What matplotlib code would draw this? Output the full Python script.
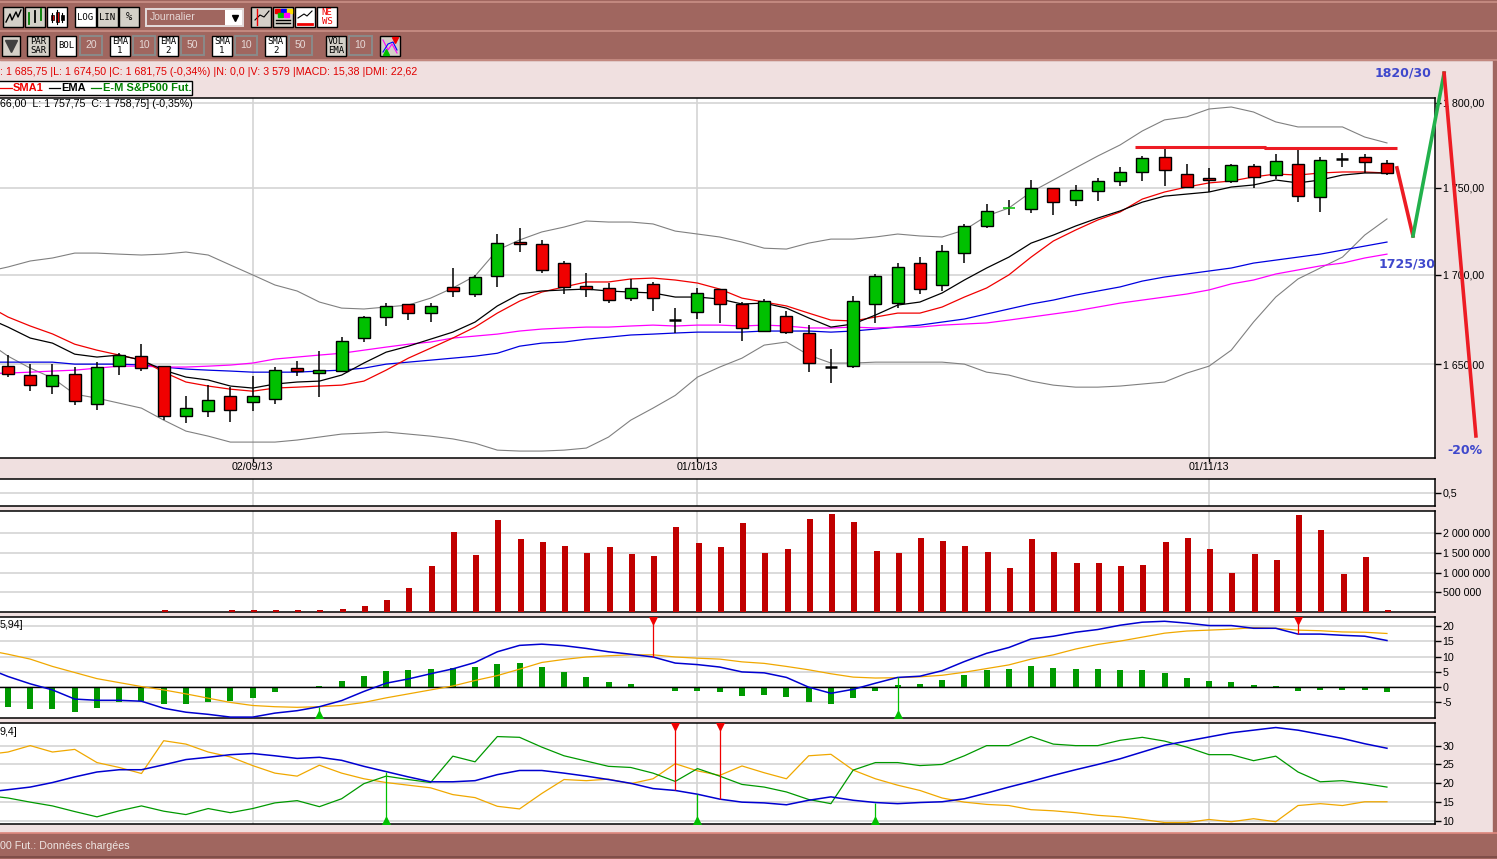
import numpy as np
import matplotlib
matplotlib.use('Agg')
import matplotlib.pyplot as plt
from matplotlib.patches import Rectangle

W, H = 1497, 859
plt.rcParams['font.family'] = ['Liberation Sans', 'DejaVu Sans']

# daily candles
opens = [1648.9, 1644, 1638, 1644.5, 1628.2, 1648.9, 1654.4, 1648.9, 1621.7, 1624.4, 1632.6, 1629.2, 1630.8, 1647.8, 1645.1, 1646.2,
         1664.4, 1676.1, 1683.4, 1678.3, 1693, 1689, 1699.2, 1718.5, 1717.4, 1706.5, 1693.5, 1692.4, 1686.7, 1694.7, 1674.4, 1678.9,
         1691.8, 1683.4, 1668.3, 1676.7, 1667.2, 1648.4, 1648.9, 1683.4, 1683.9, 1706.5, 1694.1, 1712.2, 1727.7, 1738.1, 1737.5, 1749.7,
         1742.7, 1748, 1753.8, 1759.1, 1767.9, 1757.9, 1755.6, 1753.8, 1762.6, 1757.3, 1763.8, 1744.4, 1766.7, 1767.9, 1764.4]
closes = [1644.5, 1638.5, 1644, 1629.8, 1648.4, 1655, 1647.8, 1621.7, 1626, 1630.3, 1624.9, 1632.6, 1646.7, 1646.2, 1646.7, 1662.7,
          1676.1, 1682.3, 1678.3, 1682.3, 1690.7, 1698.6, 1717.9, 1717.4, 1702.6, 1693, 1691.8, 1685.6, 1692.4, 1686.7, 1674.4, 1689.6,
          1683.4, 1670, 1685, 1667.7, 1650.6, 1648.4, 1685, 1699.2, 1704.3, 1691.8, 1713.3, 1727.7, 1736.4, 1738.1, 1749.7, 1741.5,
          1748.6, 1753.8, 1759.1, 1767.3, 1760.3, 1750.3, 1754.4, 1763.2, 1756.2, 1765.6, 1745, 1766.1, 1766.7, 1765, 1758.5]
highs = [1655, 1650, 1650, 1648.4, 1651.1, 1656, 1661, 1648.9, 1632.6, 1638.5, 1637.4, 1643.5, 1648.4, 1651.7, 1657.2, 1665,
         1676.7, 1683.9, 1683.4, 1683.9, 1703.7, 1699.8, 1723.1, 1726.6, 1719.7, 1707.7, 1700.9, 1695.2, 1697.5, 1695.8, 1681.1, 1692.4,
         1691.8, 1684.5, 1686.2, 1679.5, 1671.6, 1658.2, 1687.9, 1700.3, 1706.5, 1709.9, 1716.8, 1728.9, 1740.4, 1742.7, 1754.4, 1749.7,
         1751.5, 1755.6, 1762, 1768.5, 1773.2, 1763.8, 1761.5, 1763.8, 1763.8, 1769.6, 1772.6, 1767.9, 1770.2, 1769.6, 1766.1]
lows = [1642.9, 1635.2, 1633.9, 1627.6, 1624.9, 1644, 1646.2, 1619.5, 1618, 1621.2, 1618.5, 1624.4, 1628.2, 1643.5, 1632, 1646.2,
        1662.2, 1671.1, 1674.4, 1673.3, 1687.3, 1687.3, 1693, 1712.8, 1700.9, 1689, 1687.3, 1683.9, 1685, 1679.5, 1667, 1675,
        1672.8, 1662.7, 1667.7, 1666.6, 1645.6, 1639.6, 1647.8, 1672.8, 1681.1, 1689, 1690.7, 1706.5, 1726.6, 1734.1, 1735.2, 1734.1,
        1739.2, 1742.1, 1750.9, 1753.8, 1750.9, 1749.7, 1747.4, 1752.7, 1749.7, 1755, 1741.5, 1735.8, 1762, 1758.5, 1757.3]

# overlays on the price panel, the first value is the day before the first candle
boll_up = [1701.5, 1704.3, 1707.7, 1709.4, 1712.2, 1712.2, 1711.6, 1711.1, 1711.6, 1712.8, 1711.1, 1705.4, 1699.8, 1694.1, 1690.7, 1684.5, 1681.1,
           1680.6, 1681.7, 1682.8, 1686.7, 1692.4, 1699.2, 1713.9, 1719.7, 1724.3, 1727.1, 1730.6, 1730, 1730, 1728.9, 1724.8, 1723.1,
           1721.4, 1718.5, 1715, 1714.5, 1717.9, 1720.2, 1720.2, 1721.4, 1723.1, 1722, 1721.4, 1725.4, 1733.5, 1738.1, 1747.4, 1754.4,
           1761.5, 1768.5, 1775, 1783.3, 1789.9, 1791.7, 1796.4, 1797.6, 1794.6, 1788.7, 1785.7, 1785.7, 1785.7, 1779.7, 1776.2]
boll_low = [1663, 1654.4, 1647.8, 1642.4, 1633.6, 1631.4, 1628.7, 1626, 1619.5, 1613.6, 1610.9, 1607.7, 1607.7, 1607.7, 1608.8, 1610.4, 1612,
            1612.5, 1613.1, 1612, 1610.9, 1609.4, 1607.1, 1603.4, 1602.9, 1602.9, 1603.4, 1604.5, 1610.4, 1619.5, 1626, 1632.9, 1642.9,
            1648.4, 1653.3, 1660.5, 1662.2, 1655, 1650.6, 1650.6, 1651.1, 1651.1, 1651.1, 1651.1, 1650, 1645.6, 1644, 1640.7, 1638.5,
            1637.4, 1637.4, 1638, 1639.1, 1640.2, 1645.1, 1648.9, 1657.7, 1673.3, 1687.3, 1697.5, 1703.7, 1709.9, 1722.5, 1731.8]
sma1 = [1683, 1676.1, 1671.1, 1666.7, 1661, 1657.7, 1655, 1652.2, 1645.6, 1640.2, 1638, 1636.3, 1635.2, 1636.9, 1637.4, 1638, 1638.5,
        1640.7, 1646.7, 1653.3, 1658.8, 1664.4, 1670.5, 1678.3, 1685, 1690.1, 1693, 1695.8, 1695.8, 1697.5, 1698, 1696.9, 1695.2,
        1691.8, 1686.7, 1684.5, 1682.3, 1678.3, 1674.4, 1673.9, 1676.1, 1678.3, 1678.3, 1681.7, 1687.3, 1692.4, 1699.8, 1709.9, 1719.1,
        1725.4, 1731.2, 1735.8, 1743.3, 1747.4, 1750.3, 1752.7, 1753.8, 1756.2, 1757.9, 1757.3, 1758.5, 1759.1, 1759.1, 1758.5]
ema1 = [1676, 1670.5, 1664.4, 1661.6, 1655.5, 1653.9, 1655, 1652.2, 1646.7, 1642.9, 1641.3, 1638, 1636.9, 1639.1, 1640.2, 1640.7, 1644,
        1650.6, 1656.6, 1659.9, 1663.8, 1667.7, 1673.3, 1682.3, 1689, 1690.7, 1691.3, 1691.8, 1690.7, 1690.1, 1689.6, 1687.3, 1687.3,
        1686.2, 1683.4, 1683.9, 1681.1, 1675.6, 1670.5, 1672.2, 1677.2, 1682.8, 1684.5, 1689.6, 1696.9, 1703.7, 1709.9, 1717.9, 1722.5,
        1727.7, 1732.3, 1736.4, 1741.5, 1745, 1746.2, 1747.4, 1750.3, 1751.5, 1754.4, 1752.7, 1754.4, 1757.3, 1758.5, 1758.5]
ema2 = [1651.1, 1651.1, 1651.1, 1651.1, 1650, 1650, 1650, 1649.5, 1648.4, 1647.3, 1646.7, 1646.2, 1645.6, 1645.6, 1645.6, 1646.2, 1646.7,
        1647.8, 1650, 1651.1, 1652.2, 1653.3, 1654.4, 1656, 1659.9, 1661.6, 1662.2, 1663.8, 1664.9, 1666.1, 1666.6, 1667.2, 1667.7,
        1667.7, 1667.7, 1668.3, 1668.3, 1668.3, 1667.7, 1668.3, 1669.4, 1670.5, 1671.6, 1673.3, 1675, 1677.8, 1680.6, 1683.4, 1685.6,
        1688.4, 1690.7, 1693, 1696.3, 1698.6, 1700.3, 1702, 1703.7, 1706.5, 1708.2, 1709.9, 1711.6, 1713.9, 1716.2, 1718.5]
sma2 = [1644.8, 1645.1, 1645.6, 1646.2, 1646.7, 1647.8, 1648.9, 1648.9, 1648.4, 1648.4, 1648.9, 1649.5, 1650.6, 1652.8, 1653.9, 1655, 1656,
        1657.7, 1659.4, 1661, 1662.2, 1664.4, 1665.5, 1666.6, 1668.3, 1669.4, 1670, 1670.5, 1670.5, 1671.1, 1671.6, 1671.1, 1671.6,
        1671.6, 1671.1, 1671.6, 1671.1, 1670, 1670, 1670.5, 1670, 1670.5, 1670.5, 1671.6, 1672.2, 1672.8, 1674.4, 1676.1, 1677.8,
        1679.5, 1681.7, 1683.9, 1685.6, 1687.3, 1689, 1691.3, 1694.7, 1696.9, 1700.3, 1702.6, 1704.9, 1706.5, 1709.4, 1711.6]

volume = [0, 0, 0, 0, 0, 0, 0, 40000, 0, 0, 40000, 40000, 40000, 40000, 60000, 80000,
          153000, 305000, 610000, 1170000, 2030000, 1450000, 2340000, 1860000, 1780000, 1680000, 1500000, 1650000, 1470000, 1420000, 2160000, 1750000,
          1650000, 2260000, 1500000, 1600000, 2360000, 2490000, 2290000, 1550000, 1500000, 1880000, 1810000, 1680000, 1530000, 1120000, 1860000, 1530000,
          1250000, 1250000, 1170000, 1190000, 1780000, 1880000, 1600000, 990000, 1470000, 1320000, 2470000, 2080000, 970000, 1400000, 60000]

macd_hist = [-6.4, -7.3, -7.3, -8, -6.7, -5, -4.6, -5.4, -5.4, -4.7, -4.4, -3.4, -1.7, -0.4, 0.4, 2.1,
             3.7, 5.4, 5.7, 6, 6.3, 6.7, 7.7, 8, 6.7, 5, 3.4, 1.7, 1.1, 0, -1.4, -1.4,
             -1.7, -2.8, -2.5, -3.1, -4.8, -5.5, -3.5, -1.2, 0.8, 1.1, 2.4, 4, 5.7, 6, 7, 6.3,
             6, 6, 5.7, 5.7, 4.7, 3.1, 2.1, 1.7, 0.8, 0.4, -1.2, -0.9, -0.9, -0.9, -1.5]
macd_line = [6.4, 3.5, 1.1, -0.9, -3.9, -4.3, -4.3, -4.6, -6.9, -8.2, -8.9, -9.8, -9.8, -8.5, -7.7, -6.4, -4.4,
             -1.4, 1.3, 2.7, 4.4, 6, 8.1, 11.6, 13.7, 14.1, 13.6, 12.7, 11.6, 10.8, 9.9, 7.9, 7.4,
             6.6, 5, 4.7, 3.2, 0, -2, -0.7, 1.3, 3.2, 3.6, 5.4, 8.4, 11.1, 13, 15.8, 16.7,
             18, 18.9, 20.3, 21.3, 21.6, 21, 20.2, 20.2, 19.3, 19.3, 17.4, 17.4, 17, 16.7, 15.3]
macd_signal = [12.2, 10.8, 9.2, 6.8, 4.8, 2.8, 1.5, 0.2, -0.9, -2.2, -3.6, -5, -6, -6.4, -6.6, -6.4, -6,
               -5, -3.5, -2.2, -0.9, 0.4, 2.2, 3.8, 5.9, 8.1, 9.1, 9.9, 10.3, 10.6, 10.6, 9.9, 9.5,
               9.2, 8.3, 7.8, 6.8, 5.7, 4.4, 3.3, 3, 3.1, 3.4, 3.9, 4.9, 6.1, 7.3, 9.2, 10.6,
               12.5, 14, 15.1, 16.4, 17.7, 18.4, 18.7, 19, 19.5, 19.3, 18.7, 18.5, 18.1, 18, 17.6]

adx = [17.6, 18.3, 19, 20.2, 21.7, 23, 23.6, 23.6, 24.9, 26.3, 26.9, 27.6, 27.9, 27.3, 26.6, 26.9, 26.1,
       24.5, 23.1, 21.7, 20.4, 20.4, 20.7, 22.3, 23.4, 23.4, 22.7, 21.9, 21, 20, 18.6, 18.1, 17.1,
       15.8, 15, 14.8, 14.3, 15.5, 16.4, 15.5, 14.9, 14.6, 14.9, 15.1, 15.9, 17.4, 19, 20.5, 22.1,
       23.6, 25, 26.5, 28.3, 30.1, 31.2, 32.3, 33.4, 34.1, 34.8, 34.1, 33, 31.9, 30.5, 29.3]
di_minus = [27.6, 28.3, 30, 28.3, 29, 25.5, 24.2, 22.6, 31.3, 30.4, 28.3, 27, 24.7, 22.7, 21.9, 24.8, 22.7,
            21.2, 20.2, 19.5, 18.8, 17, 16.2, 13.9, 13.2, 17.3, 21, 20.7, 21.1, 19.9, 21.2, 25.2, 23.3,
            22.1, 24.6, 22.8, 21.2, 27.3, 27.7, 23.5, 21.2, 19.5, 18.1, 16.1, 15, 14.4, 14.1, 13, 12.7,
            12.2, 11.5, 11.1, 10.4, 9.6, 9.6, 10.4, 9.8, 10.6, 9.8, 14.1, 14.6, 14.1, 15.1, 15.1]
di_plus = [16.8, 16.1, 15, 14, 12.5, 11.1, 12.7, 14, 12.6, 11.7, 13.3, 12.2, 13.3, 14.8, 15.4, 13.8, 15.9,
           19.9, 21.9, 21, 20.2, 27.2, 25.7, 32.4, 32.2, 29.6, 27.3, 25.9, 24.5, 24.2, 22.7, 20.5, 23.9,
           21.9, 19.7, 19, 17.7, 15.7, 14.6, 23.5, 25.5, 25.5, 24.7, 25, 27.3, 30, 30, 32.4, 30.4,
           30, 30, 31.4, 32.2, 31.2, 29.6, 27.6, 27.6, 26, 27.2, 23, 20.4, 20.7, 19.9, 19]

# signal arrows (candle index)
macd_up = [14, 40]
macd_down = [29, 58]
dmi_up = [17, 31, 39]
dmi_down = [30, 32]

date_idx = [11, 31, 54]
date_labels = ['02/09/13', '01/10/13', '01/11/13']
price_ticks = [1650, 1700, 1750, 1800]
price_labels = ['1 650,00', '1 700,00', '1 750,00', '1 800,00']
vol_ticks = [500000, 1000000, 1500000, 2000000]
vol_labels = ['500 000', '1 000 000', '1 500 000', '2 000 000']
macd_ticks = [-5, 0, 5, 10, 15, 20]
dmi_ticks = [10, 15, 20, 25, 30]

# hand drawn forecast on top of the chart
res_x = [50.67, 56.5, 56.5, 62.45]
res_y = [1774, 1774, 1773.4, 1773.4]
fall_x = [62.45, 63.17]
fall_y = [1761.5, 1722]
rise_x = [63.17, 64.57]
rise_y = [1722, 1818]
drop_x = [64.57, 66.0]
drop_y = [1818, 1611]

BROWN = '#a0665f'
PINK = '#f0e0e0'
GRID = '#d4d4d4'
GREEN = '#00c000'
RED = '#f00000'
BTN = '#d4d0c8'
INK = '#3f48cc'
TXT = 7.7

x = np.arange(len(opens))
xl = np.arange(-1, len(opens))  # overlay lines run past the left edge
xlim = (-0.36, 64.16)
fig = plt.figure(figsize=(W / 100, H / 100), dpi=100, facecolor=PINK)


def panel(top, bottom):
    ax = fig.add_axes([0, 1 - bottom / H, 1435 / W, (bottom - top) / H], zorder=2)
    ax.set_xlim(xlim)
    ax.spines['left'].set_visible(False)
    for s in ['top', 'bottom', 'right']:
        ax.spines[s].set_linewidth(1.1)
    ax.yaxis.tick_right()
    ax.set_axisbelow(True)
    ax.grid(True, color=GRID, lw=1.2)
    ax.set_xticks(date_idx)
    ax.tick_params(axis='x', length=0, labelbottom=False)
    ax.tick_params(axis='y', length=4, width=1, pad=1.5, labelsize=TXT)
    return ax


# window chrome in pixel coordinates
ui = fig.add_axes([0, 0, 1, 1], zorder=0)
ui.set_xlim(0, W)
ui.set_ylim(H, 0)
ui.axis('off')
ui.add_patch(Rectangle((0, 0), W, 60, color=BROWN))
ui.add_patch(Rectangle((0, 833), W, 26, color=BROWN))
ui.add_patch(Rectangle((1493, 0), 4, H, color=BROWN))
for yy, c in [(2, '#c98f86'), (31, '#c98f86'), (60, '#c98f86'), (833, '#e08a80'), (857, '#7a4a45')]:
    ui.plot([0, W], [yy, yy], color=c, lw=1.2)


def button(x0, x1, y0, y1, label=None, fc=BTN, color='black', size=6.5):
    ui.add_patch(Rectangle((x0, y0), x1 - x0, y1 - y0, fc=fc, ec='black', lw=1))
    if label:
        ui.text((x0 + x1) / 2, (y0 + y1) / 2, label, ha='center', va='center', fontsize=size,
                color=color, linespacing=0.95, family=['DejaVu Sans Mono'])


def field(x0, x1, label):
    ui.add_patch(Rectangle((x0, 36), x1 - x0, 19, fc=BROWN, ec='#8a8a8a', lw=1.4))
    ui.text((x0 + x1) / 2, 45.5, label, ha='center', va='center', fontsize=7.5, color='#e6d8d6')


# first toolbar row
button(3, 23, 7, 27)
ui.plot([6, 10, 12, 16, 18, 21], [22, 14, 20, 12, 17, 10], color='black', lw=1)
button(25, 45, 7, 27)
for bx, b0, b1, col in [(29, 13, 24, 'green'), (35, 11, 22, 'black'), (41, 9, 20, 'green')]:
    ui.plot([bx, bx], [b0, b1], color=col, lw=1.3)
button(47, 67, 7, 27, fc='white')
for bx, b0, b1, col in [(52, 13, 22, RED), (57, 10, 24, RED), (62, 13, 22, 'black')]:
    ui.plot([bx, bx], [b0, b1], color='black', lw=0.8)
    ui.add_patch(Rectangle((bx - 1.5, b0 + 2), 3, b1 - b0 - 4, fc=col, ec='black', lw=0.5))
button(75, 96, 7, 27, 'LOG', fc='white')
button(97, 118, 7, 27, 'LIN')
button(119, 139, 7, 27, '%', size=7.5)
ui.add_patch(Rectangle((146, 9), 97, 17, fc=BROWN, ec='#e4dcdc', lw=1.4))
ui.add_patch(Rectangle((225, 10), 17, 15, fc='white', ec='none'))
ui.text(150, 17.5, 'Journalier', va='center', fontsize=7.5, color='#e6d8d6')
ui.plot([235], [18], marker='v', color='black', ms=4)
button(251, 271, 7, 27)
ui.plot([255, 260, 264, 269], [20, 15, 17, 11], color='black', lw=0.8)
ui.plot([257, 257], [9, 25], color=RED, lw=1)
button(273, 293, 7, 27)
for cx, cy, col in [(278, 11, RED), (284, 11, 'blue'), (290, 11, '#ffe000'), (281, 15, '#00c000'), (287, 15, 'magenta')]:
    ui.add_patch(Rectangle((cx - 3, cy - 2), 5, 4, color=col))
ui.plot([276, 290], [20, 20], color='black', lw=1)
ui.plot([276, 290], [23, 23], color='black', lw=1)
button(295, 315, 7, 27, fc='white')
ui.plot([298, 304, 307, 312], [18, 14, 16, 11], color='black', lw=0.8)
ui.plot([298, 312], [24, 24], color=RED, lw=2)
button(317, 337, 7, 27, 'NE\nWS', fc='white', color=RED)

# second toolbar row
button(2, 20, 36, 56)
ui.plot([11], [46], marker='v', color='#404040', ms=9)
button(27, 49, 36, 56, 'PAR\nSAR')
button(56, 76, 36, 56, 'BOL', fc='white')
field(80, 102, '20')
button(110, 130, 36, 56, 'EMA\n1', fc='white')
field(133, 155, '10')
button(158, 178, 36, 56, 'EMA\n2', fc='white')
field(181, 204, '50')
button(212, 232, 36, 56, 'SMA\n1', fc='white')
field(235, 257, '10')
button(265, 286, 36, 56, 'SMA\n2', fc='white')
field(289, 312, '50')
button(326, 346, 36, 56, 'VOL\nEMA')
field(349, 372, '10')
button(380, 400, 36, 56)
ui.plot([383, 388, 392, 397], [40, 50, 44, 53], color='magenta', lw=0.8)
ui.plot([383, 388, 393, 397], [52, 44, 42, 50], color='blue', lw=0.8)
ui.plot([395], [40], marker='v', color=RED, ms=4)
ui.plot([386], [52], marker='^', color='#00c000', ms=4)

# header text and legend box
ui.text(0, 72, ': 1 685,75 |L: 1 674,50 |C: 1 681,75 (-0,34%) |N: 0,0 |V: 3 579 |MACD: 15,38 |DMI: 22,62',
        va='center', fontsize=7.65, color='#e00000')
ui.add_patch(Rectangle((-2, 81), 194, 14, fc='white', ec='black', lw=1))
for x0, x1, col in [(0, 12, RED), (49, 60, 'black'), (91, 101, '#008000')]:
    ui.plot([x0, x1], [87.5, 87.5], color=col, lw=0.9)
ui.text(13, 88, 'SMA1', va='center', fontsize=8, fontweight='bold', color=RED)
ui.text(61, 88, 'EMA', va='center', fontsize=8, fontweight='bold', color='black')
ui.text(103, 88, 'E-M S&P500 Fut.', va='center', fontsize=8, fontweight='bold', color='#008000')
ui.text(0, 846, '00 Fut.: Données chargées', va='center', fontsize=7.7, color='#efe6e4')

# price panel
ax = panel(98, 458)
ax.set_yscale('log')
ax.set_ylim(1599.2, 1803)
ax.set_yticks(price_ticks)
ax.set_yticklabels(price_labels)
ax.minorticks_off()
ax.plot(xl, boll_up, color='#808080', lw=0.8, zorder=2)
ax.plot(xl, boll_low, color='#808080', lw=0.8, zorder=2)
ax.plot(xl, ema2, color='#0000e0', lw=0.9, zorder=2)
ax.plot(xl, sma2, color='#ff00ff', lw=0.9, zorder=2)
ax.plot(xl, sma1, color=RED, lw=0.9, zorder=2)
ax.plot(xl, ema1, color='black', lw=0.9, zorder=2)
for i in x:
    ax.vlines(i, lows[i], highs[i], color='black', lw=1.1, zorder=3)
    if opens[i] == closes[i]:
        col = GREEN if i == 45 else 'black'
        ax.hlines(opens[i], i - 0.27, i + 0.27, color=col, lw=1.1 if i == 45 else 1.8, zorder=4)
    else:
        col = GREEN if closes[i] > opens[i] else RED
        bot = min(opens[i], closes[i])
        ax.bar(i, abs(closes[i] - opens[i]), bottom=bot, width=0.54, color=col,
               edgecolor='black', lw=1, zorder=4)
ax.text(0, 0.982, '66,00  L: 1 757,75  C: 1 758,75] (-0,35%)', transform=ax.transAxes, va='center', fontsize=TXT)
ax.plot(res_x, res_y, color='#ed1c24', lw=2.2, clip_on=False, zorder=6, solid_capstyle='butt')
ax.plot(fall_x, fall_y, color='#ed1c24', lw=2.6, clip_on=False, zorder=6)
ax.plot(rise_x, rise_y, color='#22b14c', lw=2.6, clip_on=False, zorder=6)
ax.plot(drop_x, drop_y, color='#ed1c24', lw=2.6, clip_on=False, zorder=6)
ax.text(rise_x[1] - 0.55, rise_y[1], '1820/30', ha='right', va='center', fontsize=9, fontweight='bold',
        color=INK, family=['DejaVu Sans'], clip_on=False, zorder=7)
ax.text(62.9, 1706, '1725/30', ha='center', va='center', fontsize=9, fontweight='bold',
        color=INK, family=['DejaVu Sans'], clip_on=False, zorder=7)
ax.text(65.5, 1603.4, '-20%', ha='center', va='center', fontsize=9, fontweight='bold',
        color=INK, family=['DejaVu Sans'], clip_on=False, zorder=7)
# date labels under the panel
for idx, lab in zip(date_idx, date_labels):
    ax.annotate(lab, (idx, 0), xycoords=ax.get_xaxis_transform(), xytext=(0, -6.5), textcoords='offset points',
                ha='center', va='center', fontsize=TXT)
ax.tick_params(axis='x', length=3, width=1, direction='out')

# empty panel
ax2 = panel(479, 506)
ax2.set_ylim(0, 1)
ax2.set_yticks([0.5])
ax2.set_yticklabels(['0,5'])

# volume
ax3 = panel(511, 612)
ax3.set_ylim(0, 2560000)
ax3.bar(x + 0.05, volume, width=0.27, color='#c00000', zorder=3)
ax3.set_yticks(vol_ticks)
ax3.set_yticklabels(vol_labels)

# macd
ax4 = panel(617, 718)
ax4.set_ylim(-10.1, 23)
ax4.set_yticks(macd_ticks)
ax4.set_yticklabels([str(t) for t in macd_ticks])
ax4.bar(x, macd_hist, width=0.27, color='#009900', zorder=3)
ax4.axhline(0, color='black', lw=1, zorder=3)
ax4.plot(xl, macd_signal, color='#f0a800', lw=0.9, zorder=4)
ax4.plot(xl, macd_line, color='#0000d0', lw=1.1, zorder=4)

# dmi
ax5 = panel(723, 824)
ax5.set_ylim(9.2, 36)
ax5.set_yticks(dmi_ticks)
ax5.set_yticklabels([str(t) for t in dmi_ticks])
ax5.plot(xl, di_minus, color='#f0a800', lw=0.9, zorder=3)
ax5.plot(xl, di_plus, color='#009900', lw=0.9, zorder=3)
ax5.plot(xl, adx, color='#0000d0', lw=1.1, zorder=4)


def arrows(a, idx, vals, up):
    lo, hi = a.get_ylim()
    col = '#00c000' if up else '#f00000'
    for i in idx:
        # vals starts one day before the first candle
        a.vlines(i, lo if up else vals[i + 1], vals[i + 1] if up else hi, color=col, lw=0.9, zorder=5)
        a.plot([i], [0.03 if up else 0.97], marker='^' if up else 'v', color=col, ms=6,
               transform=a.get_xaxis_transform(), zorder=5)


arrows(ax4, macd_up, macd_line, True)
arrows(ax4, macd_down, macd_line, False)
arrows(ax5, dmi_up, adx, True)
arrows(ax5, dmi_down, adx, False)

ax4.text(0, 0.92, '5,94]', transform=ax4.transAxes, va='center', fontsize=TXT)
ax5.text(0, 0.91, '9,4]', transform=ax5.transAxes, va='center', fontsize=TXT)

# price panel last, the drawing runs over its axis labels
ax.set_zorder(5)

fig.savefig('out.png', dpi=100, facecolor=fig.get_facecolor())
